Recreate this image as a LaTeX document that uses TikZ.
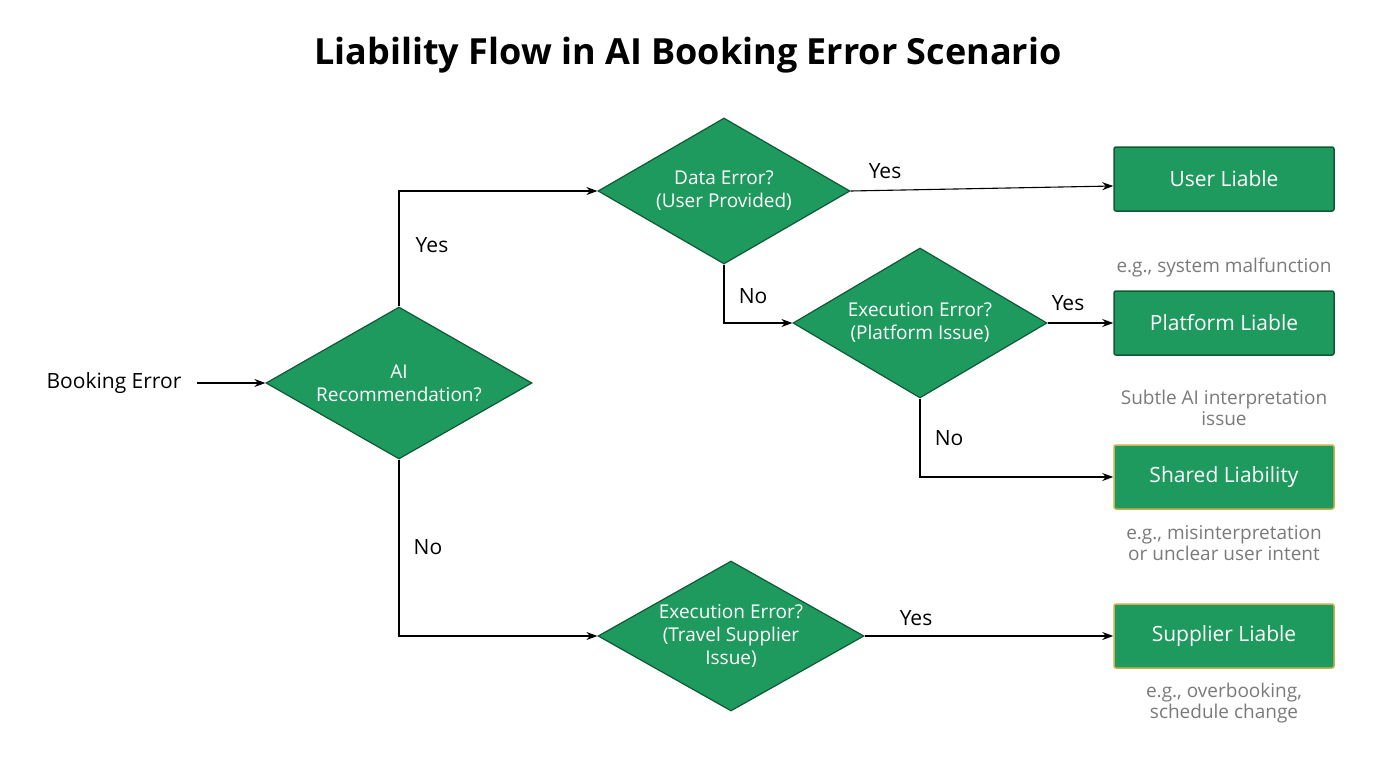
\documentclass[tikz,border=0pt]{standalone}
\usepackage{fontspec}
\setmainfont{Open Sans}
\usetikzlibrary{shapes.geometric,arrows.meta}
\definecolor{gr}{HTML}{1E9A5E}
\definecolor{grd}{HTML}{0F5A35}
\definecolor{gold}{HTML}{C9B24A}
\definecolor{note}{HTML}{7A7A7A}
\tikzset{
 x=1pt,y=-1pt,
 dia/.style={diamond,fill=gr,draw=grd,line width=1.2pt,text=white,inner sep=0pt,align=center,font=\fontsize{19}{23}\selectfont},
 res/.style={rectangle,rounded corners=2pt,fill=gr,draw=grd,line width=1.5pt,text=white,minimum width=220,minimum height=64,font=\fontsize{21}{25}\selectfont},
 resg/.style={res,draw=gold},
 lab/.style={font=\fontsize{21}{25}\selectfont,text=black},
 notes/.style={font=\fontsize{19}{23}\selectfont,text=note,align=center},
 arr/.style={line width=1.1pt,-{Stealth[length=11pt,width=8pt]}}
}
\begin{document}
\begin{tikzpicture}
\useasboundingbox (0,0) rectangle (1376,768);
\node[font=\bfseries\fontsize{36}{42}\selectfont] (title) at (688,55) {Liability Flow in AI Booking Error Scenario};
\node[lab] (start) at (114,383) {Booking Error};
\node[dia,minimum width=266,minimum height=152,shape aspect=1.75] (ai) at (399,383) {AI\\Recommendation?};
\node[dia,minimum width=252,minimum height=146,shape aspect=1.73] (data) at (724,191) {Data Error?\\(User Provided)};
\node[dia,minimum width=254,minimum height=150,shape aspect=1.69] (exec) at (920,323) {Execution Error?\\(Platform Issue)};
\node[dia,minimum width=266,minimum height=150,shape aspect=1.77] (sup) at (731,636) {Execution Error?\\(Travel Supplier\\Issue)};
\node[res] (user) at (1224,179) {User Liable};
\node[res] (plat) at (1224,323) {Platform Liable};
\node[resg] (shared) at (1224,477) {Shared Liability};
\node[resg] (supl) at (1224,636) {Supplier Liable};
\node[notes] (n1) at (1224,268) {e.g., system malfunction};
\node[notes] (n2) at (1224,408) {Subtle AI interpretation\\[-2pt]issue};
\node[notes] (n3) at (1224,543) {e.g., misinterpretation\\[-2pt]or unclear user intent};
\node[notes] (n4) at (1224,703) {e.g., overbooking,\\[-2pt]schedule change};
\draw[arr] (start.east) ++(12,0) -- (ai.west);
\draw[arr] (ai.north) |- (data.west);
\draw[arr] (ai.south) |- (sup.west);
\draw[arr] (data.east) -- (user.west |- 0,186);
\draw[arr] (data.south) |- (exec.west);
\draw[arr] (exec.east) -- (plat.west);
\draw[arr] (exec.south) |- (shared.west);
\draw[arr] (sup.east) -- (supl.west);
\node[lab] (y1) at (432,245) {Yes};
\node[lab] (no1) at (428,547) {No};
\node[lab] (y2) at (885,171) {Yes};
\node[lab] (no2) at (753,296) {No};
\node[lab] (y3) at (1068,303) {Yes};
\node[lab] (no3) at (949,438) {No};
\node[lab] (y4) at (916,618) {Yes};
\end{tikzpicture}
\end{document}
